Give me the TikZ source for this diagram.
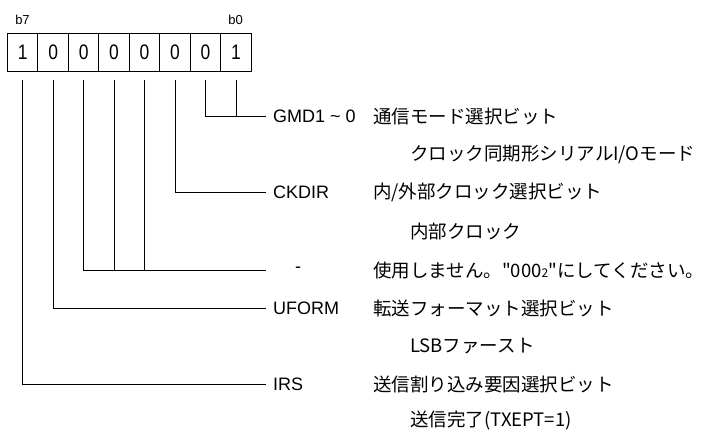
\documentclass[tikz,border=0pt]{standalone}
\usepackage{fontspec}
\setmainfont{Liberation Sans}
\newfontfamily\jp{Noto Sans CJK JP}
\newfontfamily\cellfont[FakeStretch=0.83]{Liberation Sans}
\begin{document}
\begin{tikzpicture}[x=1pt,y=-1pt,
  cell/.style={draw, line width=0.9pt, minimum width=30.46pt, minimum height=38pt, inner sep=0pt, anchor=north west, font=\cellfont\fontsize{21}{21}\selectfont},
  lbl/.style={anchor=west, inner sep=0pt, font=\fontsize{18}{18}\selectfont},
  jtxt/.style={anchor=west, inner sep=0pt, font=\jp\fontsize{18.5}{18.5}\selectfont},
  wire/.style={line width=0.8pt},
  bitlbl/.style={inner sep=0pt, font=\fontsize{13}{13}\selectfont}]
\useasboundingbox (0,0) rectangle (703,436);
% register cells
\foreach \k/\b/\v in {0/7/1,1/6/0,2/5/0,3/4/0,4/3/0,5/2/0,6/1/0,7/0/1}{
  \node[cell] (c\b) at ({7+30.46*\k},33) {\v};
  \coordinate (s\b) at ([yshift=-8pt]c\b.south);
}
\node[bitlbl] (b7) at (22.5,20) {b7};
\node[bitlbl] (b0) at (235.5,20) {b0};
% labels
\node[lbl] (gmd) at (273,116.5) {GMD1 \textasciitilde{} 0};
\node[jtxt] (gmdj) at (373,116.5) {通信モード選択ビット};
\node[jtxt] (gmds) at (410,154) {クロック同期形シリアルI/Oモード};
\node[lbl] (ckd) at (273,192.5) {CKDIR};
\node[jtxt] (ckdj) at (373,192.5) {内/外部クロック選択ビット};
\node[jtxt] (ckds) at (410,231) {内部クロック};
\node[lbl] (dash) at (295,270) {-};
\coordinate (dashend) at (266,270);
\node[jtxt] (dashj) at (373,270) {使用しません。"000{\fontsize{12}{12}\selectfont 2}"にしてください。};
\node[lbl] (ufm) at (273,308.5) {UFORM};
\node[jtxt] (ufmj) at (373,308.5) {転送フォーマット選択ビット};
\node[jtxt] (ufms) at (410,346.5) {LSBファースト};
\node[lbl] (irs) at (273,384) {IRS};
\node[jtxt] (irsj) at (373,384) {送信割り込み要因選択ビット};
\node[jtxt] (irss) at (410,421) {送信完了(TXEPT=1)};
% wires
\draw[wire] (s1) |- ([xshift=-7pt]gmd.west);
\draw[wire] (s0) -- (s0 |- gmd.west);
\draw[wire] (s2) |- ([xshift=-7pt]ckd.west);
\draw[wire] (s5) |- (dashend);
\draw[wire] (s4) -- (s4 |- dashend);
\draw[wire] (s3) -- (s3 |- dashend);
\draw[wire] (s6) |- ([xshift=-7pt]ufm.west);
\draw[wire] (s7) |- ([xshift=-7pt]irs.west);
\end{tikzpicture}
\end{document}
